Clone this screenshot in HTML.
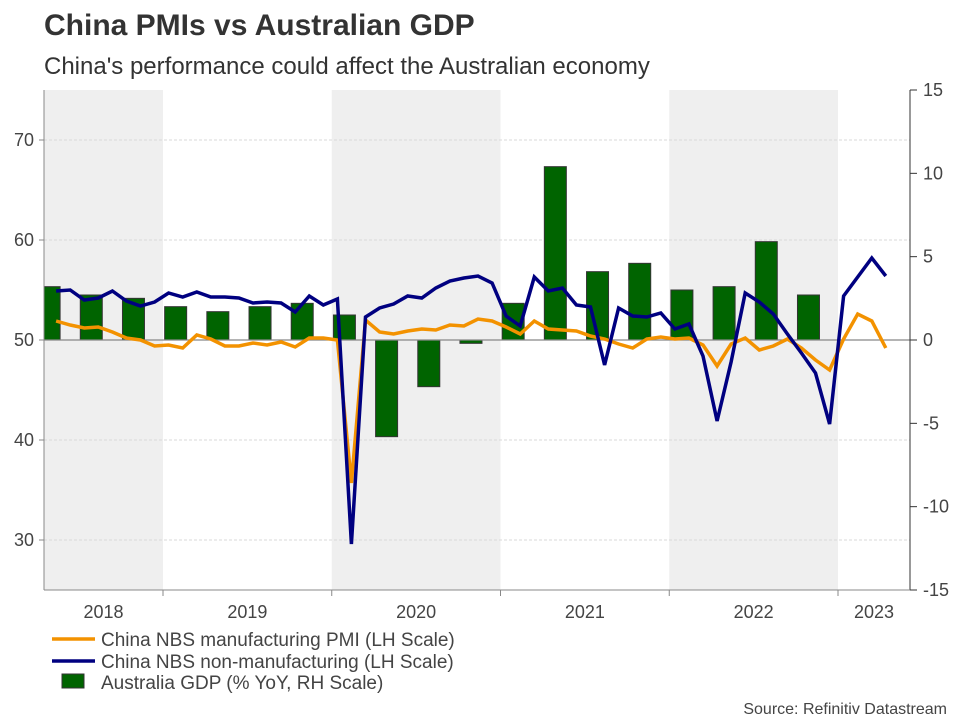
<!DOCTYPE html>
<html><head><meta charset="utf-8"><style>
body{margin:0;background:#fff;}
svg{display:block;font-family:"Liberation Sans",Arial,sans-serif;}
</style></head><body>
<svg id="chart" width="960" height="720" viewBox="0 0 960 720">
<text x="44" y="35" font-size="30" font-weight="bold" fill="#333">China PMIs vs Australian GDP</text>
<text x="44" y="74" font-size="24" fill="#333">China's performance could affect the Australian economy</text>
<g id="shade"></g><g id="grid"></g><g id="bars"></g><g id="lines"></g><g id="axes"></g>
<g>
<line x1="52" y1="639" x2="95" y2="639" stroke="#f39200" stroke-width="3.5"/>
<text x="101" y="646" font-size="19" fill="#444">China NBS manufacturing PMI (LH Scale)</text>
<line x1="52" y1="661" x2="95" y2="661" stroke="#000080" stroke-width="3.5"/>
<text x="101" y="668" font-size="19" fill="#444">China NBS non-manufacturing (LH Scale)</text>
<rect x="62" y="674" width="22" height="14" fill="#006400" stroke="#333"/>
<text x="101" y="689" font-size="19" fill="#444">Australia GDP (% YoY, RH Scale)</text>
</g>
<text x="947" y="714" font-size="16" fill="#444" text-anchor="end">Source: Refinitiv Datastream</text>
</svg>
<script>
const years = ["2018","2019","2020","2021","2022","2023"];
const leftTicks = [30,40,50,60,70];
const rightTicks = [-15,-10,-5,0,5,10,15];
const mfg = [51.9,51.5,51.2,51.3,50.8,50.2,50.0,49.4,
49.5,49.2,50.5,50.1,49.4,49.4,49.7,49.5,49.8,49.3,50.2,50.2,
50.0,35.7,52.0,50.8,50.6,50.9,51.1,51.0,51.5,51.4,52.1,51.9,
51.3,50.6,51.9,51.1,51.0,50.9,50.4,50.1,49.6,49.2,50.1,50.3,
50.1,50.2,49.5,47.4,49.6,50.2,49.0,49.4,50.1,49.2,48.0,47.0,
50.1,52.6,51.9,49.2];
const nonMfg = [54.9,55.0,54.0,54.2,54.9,53.9,53.4,53.8,
54.7,54.3,54.8,54.3,54.3,54.2,53.7,53.8,53.7,52.8,54.4,53.5,
54.1,29.6,52.3,53.2,53.6,54.4,54.2,55.2,55.9,56.2,56.4,55.7,
52.4,51.4,56.3,54.9,55.2,53.5,53.3,47.5,53.2,52.4,52.3,52.7,
51.1,51.6,48.4,41.9,47.8,54.7,53.8,52.6,50.6,48.7,46.7,41.6,
54.4,56.3,58.2,56.4];
const gdp = [3.2,2.7,2.5,2.0,1.7,2.0,2.2,1.5,-5.8,-2.8,-0.2,2.2,10.4,4.1,4.6,3.0,3.2,5.9,2.7];

const L=44,R=910,T=90,B=590;
const monthW=168.75/12, origin=-5.75;
const x = m => origin + monthW*(m+0.4);
const yL = v => 340 - (v-50)*10;
const yR = v => 340 - v*(250/15);
const NS="http://www.w3.org/2000/svg";
function mk(parent,tag,attrs){const e=document.createElementNS(NS,tag);for(const k in attrs)e.setAttribute(k,attrs[k]);document.getElementById(parent).appendChild(e);return e;}

years.forEach((yr,i)=>{
  const x0=origin+168.75*i, x1=Math.min(x0+168.75,R);
  if(i%2===0){
    const r=mk('shade','rect',{x:Math.max(x0,L),y:T,width:x1-Math.max(x0,L),height:B-T,fill:'#efefef'});
    
    
  }
  const t=mk('axes','text',{x:(Math.max(x0,L)+x1)/2,y:618,'font-size':18,fill:'#444','text-anchor':'middle'});
  t.textContent=yr;
  
  
  if(i>0){
    const tk=mk('axes','line',{x1:x0,y1:B,x2:x0,y2:B+6,stroke:'#888'});
    
    
  }
});
leftTicks.forEach(v=>{
  const y=yL(v);
  if(v!==50){
    const g=mk('grid','line',{x1:L,y1:y,x2:R,y2:y,stroke:'#d8d8d8','stroke-dasharray':'3,2'});
    
    
  }
  const tk=mk('axes','line',{x1:L-5,y1:y,x2:L,y2:y,stroke:'#888'});
  
  
  const t=mk('axes','text',{x:L-10,y:y+6,'font-size':18,fill:'#444','text-anchor':'end'});
  t.textContent=v;
  
  
});
rightTicks.forEach(v=>{
  const y=yR(v);
  const tk=mk('axes','line',{x1:R,y1:y,x2:R+7,y2:y,stroke:'#333'});
  
  
  const t=mk('axes','text',{x:R+13,y:y+6,'font-size':18,fill:'#444'});
  t.textContent=v;
  
  
});
gdp.forEach((v,i)=>{
  const cx=x(3.5+3*i);
  let x0=cx-11, w=22;
  if(x0<L){w-=L-x0;x0=L;}
  const y0=Math.min(yR(v),yR(0)), h=Math.abs(yR(v)-yR(0));
  const b=mk('bars','rect',{x:x0,y:y0,width:w,height:Math.max(h,1.5),fill:'#006400',stroke:'#333','stroke-width':1});
  
  
});
const z=mk('bars','line',{x1:L,y1:yR(0),x2:R,y2:yR(0),stroke:'#888','stroke-width':1.2});


function drawLine(arr,color,name){
  const d=arr.map((v,i)=>(i?'L':'M')+x(4+i).toFixed(1)+','+yL(v).toFixed(1)).join(' ');
  const p=mk('lines','path',{d:d,fill:'none',stroke:color,'stroke-width':3.5,'stroke-linejoin':'miter'});
  
  
}
drawLine(mfg,'#f39200','manufacturing-pmi-line');
drawLine(nonMfg,'#000080','non-manufacturing-pmi-line');
const la=mk('axes','line',{x1:L,y1:T,x2:L,y2:B,stroke:'#888'});


const ra=mk('axes','line',{x1:R,y1:T,x2:R,y2:B,stroke:'#333'});


const ba=mk('axes','line',{x1:L,y1:B,x2:R,y2:B,stroke:'#888'});


</script>
</body></html>
